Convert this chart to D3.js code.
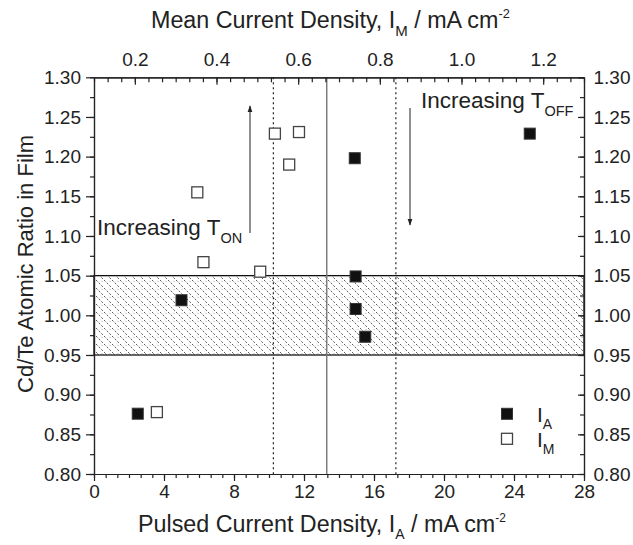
<!DOCTYPE html>
<html>
<head>
<meta charset="utf-8">
<script src="https://cdn.jsdelivr.net/npm/d3@7"></script>
<style>
  body { margin: 0; background: #fff; }
  svg { display: block; font-family: 'Liberation Sans', Arial, sans-serif; }
  .axis text { font-size: 19px; fill: #222; }
  .axis path, .axis line { stroke: #222; stroke-width: 1.2; }
</style>
</head>
<body>
<div id="chart"></div>
<script>
// pulsed current density I_A (bottom axis) vs Cd/Te ratio
const pulsedX = [2.5, 5.0, 14.9, 14.95, 14.95, 15.5, 24.9];
const pulsedY = [0.876, 1.019, 1.198, 1.049, 1.008, 0.973, 1.229];
// mean current density I_M (top axis) vs Cd/Te ratio
const meanX = [0.254, 0.353, 0.368, 0.507, 0.543, 0.578, 0.602];
const meanY = [0.878, 1.155, 1.067, 1.055, 1.229, 1.190, 1.231];

const bandRange = [0.95, 1.05];
const dottedLines = [10.25, 17.25];
const solidLines = [13.3];

const xTicks = [0, 4, 8, 12, 16, 20, 24, 28];
const xTopTicks = [0.2, 0.4, 0.6, 0.8, 1.0, 1.2];
const yTicks = [0.80, 0.85, 0.90, 0.95, 1.00, 1.05, 1.10, 1.15, 1.20, 1.25, 1.30];

const width = 633, height = 545;
const plotLeft = 94, plotRight = 584, plotTop = 77.3, plotBottom = 474;

const svg = d3.select('#chart').append('svg').attr('width', width).attr('height', height);

const x = d3.scaleLinear().domain([0, 28]).range([plotLeft, plotRight]);
const xTop = d3.scaleLinear().domain([0.1, 1.3]).range([plotLeft, plotRight]);
const y = d3.scaleLinear().domain([0.8, 1.3]).range([plotBottom, plotTop]);

const xMinor = d3.range(0, 28.001, 4 / 6);
const xTopMinor = d3.range(0.1, 1.3001, 0.2 / 6);
const yMinor = d3.range(0.8, 1.3001, 0.025);

// hatch pattern for the stoichiometric band
const defs = svg.append('defs');
const pat = defs.append('pattern').attr('id', 'hatch')
	.attr('patternUnits', 'userSpaceOnUse').attr('width', 8).attr('height', 8);
pat.append('line').attr('x1', 0).attr('y1', 0).attr('x2', 8).attr('y2', 8)
	.attr('stroke', '#333').attr('stroke-width', 0.8).attr('stroke-dasharray', '2.2,1.6');
pat.append('circle').attr('cx', 6).attr('cy', 1.5).attr('r', 0.45).attr('fill', '#666');

svg.append('rect')
	.attr('x', x(0)).attr('y', y(bandRange[1]))
	.attr('width', x(28) - x(0)).attr('height', y(bandRange[0]) - y(bandRange[1]))
	.attr('fill', 'url(#hatch)').attr('stroke', '#111').attr('stroke-width', 1.3);

svg.selectAll('.vdot').data(dottedLines).enter().append('line')
	.attr('x1', d => x(d)).attr('x2', d => x(d)).attr('y1', plotTop).attr('y2', plotBottom)
	.attr('stroke', '#222').attr('stroke-width', 1.2).attr('stroke-dasharray', '2,3');

svg.selectAll('.vsolid').data(solidLines).enter().append('line')
	.attr('x1', d => x(d)).attr('x2', d => x(d)).attr('y1', plotTop).attr('y2', plotBottom)
	.attr('stroke', '#777').attr('stroke-width', 1.4);

// axes
function addAxis(axis, tr) {
	return svg.append('g').attr('class', 'axis').attr('transform', tr).call(axis);
}
addAxis(d3.axisBottom(x).tickValues(xMinor).tickSize(4).tickSizeOuter(0).tickFormat(''), `translate(0,${plotBottom})`);
addAxis(d3.axisBottom(x).tickValues(xTicks).tickSize(7).tickSizeOuter(0).tickPadding(4).tickFormat(d3.format('d')), `translate(0,${plotBottom})`);
addAxis(d3.axisTop(xTop).tickValues(xTopMinor).tickSize(-5).tickSizeOuter(0).tickFormat(''), `translate(0,${plotTop})`);
addAxis(d3.axisTop(xTop).tickValues(xTopTicks).tickSize(-7.5).tickSizeOuter(0).tickPadding(11).tickFormat(d3.format('.1f')), `translate(0,${plotTop})`);
addAxis(d3.axisLeft(y).tickValues(yMinor).tickSize(4).tickSizeOuter(0).tickFormat(''), `translate(${plotLeft},0)`);
addAxis(d3.axisLeft(y).tickValues(yTicks).tickSize(8).tickSizeOuter(0).tickPadding(5).tickFormat(d3.format('.2f')), `translate(${plotLeft},0)`);
addAxis(d3.axisRight(y).tickValues(yMinor).tickSize(-4).tickSizeOuter(0).tickFormat(''), `translate(${plotRight},0)`);
addAxis(d3.axisRight(y).tickValues(yTicks).tickSize(-6).tickSizeOuter(0).tickPadding(9.5).tickFormat(d3.format('.2f')), `translate(${plotRight},0)`);

// remove the empty tick labels of the minor axes
svg.selectAll('.axis text').filter(function () { return this.textContent === ''; }).remove();

// arrows
const mk = defs.append('marker').attr('id', 'arr').attr('viewBox', '0 0 10 10')
	.attr('refX', 9).attr('refY', 5).attr('markerWidth', 7).attr('markerHeight', 7)
	.attr('markerUnits', 'userSpaceOnUse').attr('orient', 'auto');
mk.append('path').attr('d', 'M0,1.5 L10,5 L0,8.5 Z').attr('fill', '#222');

svg.append('line').attr('x1', 250).attr('y1', 233).attr('x2', 250).attr('y2', 106)
	.attr('stroke', '#333').attr('stroke-width', 1.1).attr('marker-end', 'url(#arr)');
svg.append('line').attr('x1', 410).attr('y1', 108).attr('x2', 410).attr('y2', 225)
	.attr('stroke', '#333').attr('stroke-width', 1.1).attr('marker-end', 'url(#arr)');

// text with sub/superscripts: parts are [text, kind] with kind '', 'sub' or 'sup'
function label(xp, yp, parts, size, subSize, subShift) {
	const t = svg.append('text').attr('x', xp).attr('y', yp)
		.attr('font-size', size).attr('fill', '#222');
	let shift = 0;
	parts.forEach(p => {
		let target = 0, fs = size;
		if (p[1] === 'sub') { target = size * (subShift || 0.35); fs = subSize; }
		if (p[1] === 'sup') { target = -size * 0.45; fs = subSize * 0.85; }
		t.append('tspan').text(p[0]).attr('font-size', fs).attr('dy', target - shift);
		shift = target;
	});
	return t;
}

label(97, 235, [['Increasing T', ''], ['ON', 'sub']], 22.5, 14.5);
label(421, 108, [['Increasing T', ''], ['OFF', 'sub']], 22.5, 14.5);

label(138, 532, [['Pulsed Current Density, I', ''], ['A', 'sub'], [' / mA cm', ''], ['-2', 'sup']], 23.3, 14, 0.3);
label(151, 28, [['Mean Current Density, I', ''], ['M', 'sub'], [' / mA cm', ''], ['-2', 'sup']], 23.3, 15);

svg.append('text').attr('transform', 'translate(33,264) rotate(-90)')
	.attr('text-anchor', 'middle').attr('font-size', 22).attr('fill', '#222')
	.text('Cd/Te Atomic Ratio in Film');

// data markers
const sq = 11;
svg.selectAll('.pulsed').data(pulsedX).enter().append('rect')
	.attr('x', (d, i) => x(d) - sq / 2).attr('y', (d, i) => y(pulsedY[i]) - sq / 2)
	.attr('width', sq).attr('height', sq)
	.attr('fill', '#111').attr('stroke', '#333').attr('stroke-width', 1);

svg.selectAll('.mean').data(meanX).enter().append('rect')
	.attr('x', (d, i) => xTop(d) - sq / 2).attr('y', (d, i) => y(meanY[i]) - sq / 2)
	.attr('width', sq).attr('height', sq)
	.attr('fill', '#fff').attr('stroke', '#444').attr('stroke-width', 1.3);

// legend
svg.append('rect').attr('x', 507 - sq / 2).attr('y', 413.8 - sq / 2).attr('width', sq).attr('height', sq)
	.attr('fill', '#111').attr('stroke', '#333').attr('stroke-width', 1);
svg.append('rect').attr('x', 507 - sq / 2).attr('y', 438.8 - sq / 2).attr('width', sq).attr('height', sq)
	.attr('fill', '#fff').attr('stroke', '#444').attr('stroke-width', 1.3);
label(537, 421.7, [['I', ''], ['A', 'sub']], 21, 14);
label(537, 446.7, [['I', ''], ['M', 'sub']], 21, 14);
</script>
</body>
</html>
